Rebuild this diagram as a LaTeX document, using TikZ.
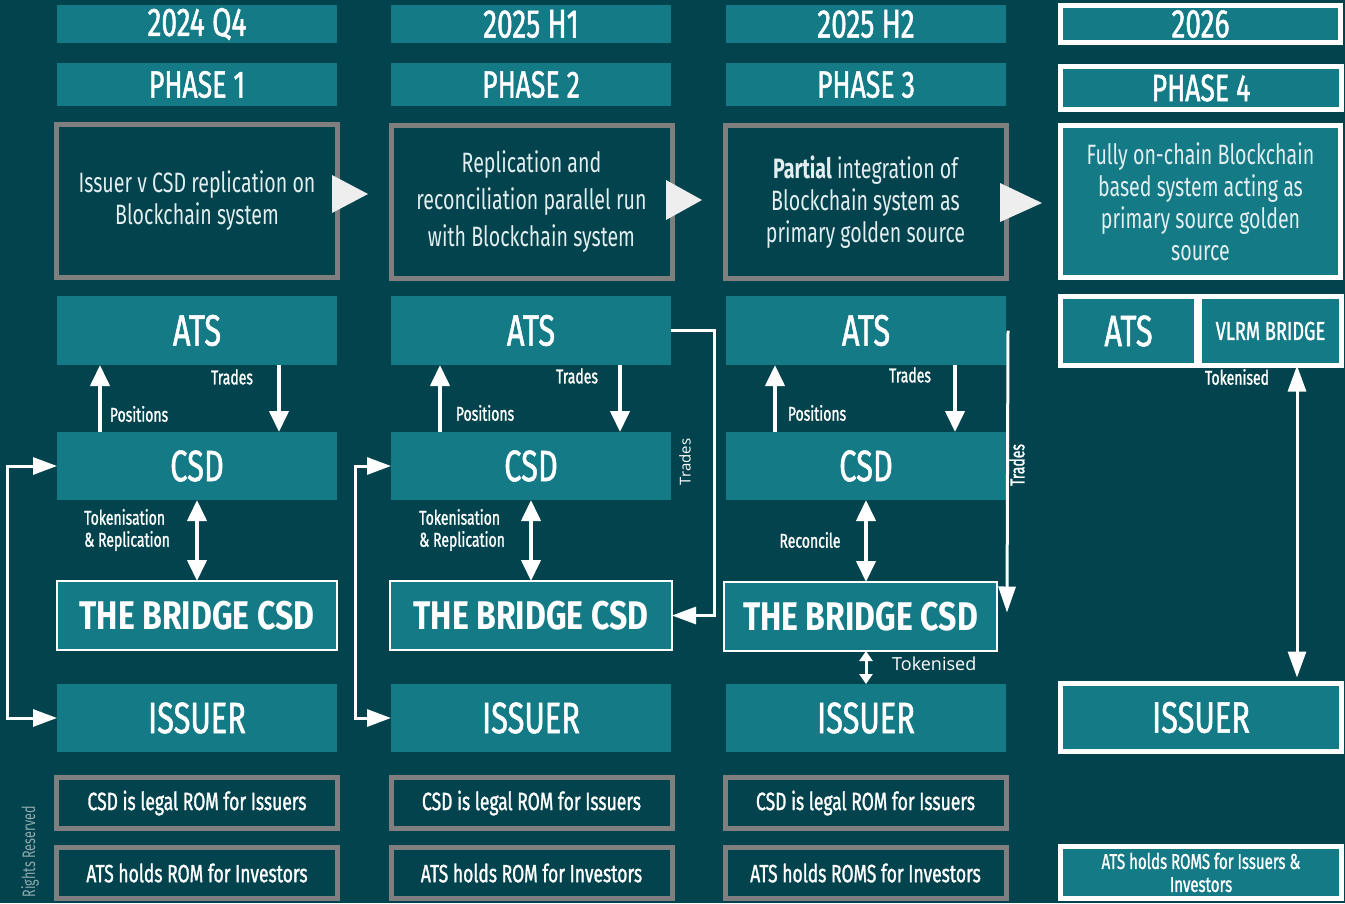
\documentclass[tikz,border=0pt]{standalone}
\usepackage{fontspec}
\usetikzlibrary{arrows.meta}
\newfontfamily\osw[FakeStretch=0.70]{Fira Sans}
\newfontfamily\oswm[FakeStretch=0.70,FakeBold=1.2]{Fira Sans}
\newfontfamily\oswb[FakeStretch=0.80]{Fira Sans}
\newfontfamily\opsans{Open Sans}
\definecolor{bgc}{HTML}{02434D}
\definecolor{tealc}{HTML}{137A86}
\definecolor{greyc}{HTML}{7F7F7F}
\definecolor{softw}{HTML}{E2EEEF}
\definecolor{rightsc}{HTML}{8FA9AD}
\definecolor{tric}{HTML}{EEEEEE}
\tikzset{
  tbox/.style={rectangle, fill=tealc, inner sep=0pt, outer sep=0pt, text=white, align=center},
  hdr/.style={tbox, minimum width=280pt, font=\oswm\fontsize{40}{42}\selectfont},
  phs/.style={tbox, minimum width=280pt, font=\oswm\fontsize{38}{40}\selectfont},
  big/.style={tbox, minimum width=280pt, minimum height=68pt, font=\oswm\fontsize{44}{46}\selectfont},
  bridge/.style={tbox, draw=white, line width=2pt, minimum height=69pt, font=\oswb\bfseries\fontsize{40}{42}\selectfont},
  desc/.style={rectangle, draw=greyc, fill=bgc, line width=5pt, minimum width=281pt, minimum height=153pt, inner sep=0pt, text=softw, align=center, font=\osw\fontsize{28}{32}\selectfont},
  legal/.style={rectangle, draw=greyc, fill=bgc, line width=5pt, minimum width=281pt, minimum height=51pt, inner sep=0pt, text=white, align=center, font=\oswm\fontsize{25}{27}\selectfont},
  wbox/.style={tbox, draw=white, line width=5pt},
  lbl/.style={text=white, inner sep=0pt, font=\oswm\fontsize{20}{22}\selectfont},
  arr/.style={white, line width=4pt, -{Triangle[width=19pt,length=21pt]}},
  darr/.style={white, line width=4pt, {Triangle[width=19pt,length=21pt]}-{Triangle[width=19pt,length=21pt]}},
  loop/.style={white, line width=3pt, {Triangle[width=17pt,length=24pt]}-{Triangle[width=17pt,length=24pt]}},
}
\begin{document}
\begin{tikzpicture}[x=1pt,y=-1pt]
\useasboundingbox (0,0) rectangle (1345,903);
\clip (0,0) rectangle (1345,903);
\fill[bgc] (0,0) rectangle (1345,903);

% ---------- headers ----------
\node[hdr, minimum height=38pt] (y1) at (197,24) {2024 Q4};
\node[hdr, minimum height=38pt] (y2) at (531,24) {2025 H1};
\node[hdr, minimum height=38pt] (y3) at (866,24) {2025 H2};
\node[wbox, minimum width=280pt, minimum height=37pt, font=\oswm\fontsize{40}{42}\selectfont] (y4) at (1200.5,24) {2026};

\node[phs, minimum height=43pt] (p1) at (197,84.5) {PHASE 1};
\node[phs, minimum height=43pt] (p2) at (531,84.5) {PHASE 2};
\node[phs, minimum height=43pt] (p3) at (866,84.5) {PHASE 3};
\node[wbox, minimum width=281pt, minimum height=43pt, font=\oswm\fontsize{38}{40}\selectfont] (p4) at (1201,88) {PHASE 4};

% ---------- descriptions ----------
\node[desc] (d1) at (197,201) {Issuer v CSD replication on\\Blockchain system};
\node[desc, font=\osw\fontsize{28}{37}\selectfont] (d2) at (531.5,201.5) {Replication and\\reconciliation parallel run\\with Blockchain system};
\node[desc] (d3) at (865.5,202) {\textbf{Partial} integration of\\Blockchain system as\\primary golden source};
\node[wbox, minimum width=280pt, minimum height=152pt, text=softw, font=\osw\fontsize{28}{32}\selectfont] (d4) at (1200.5,201.5) {Fully on-chain Blockchain\\based system acting as\\primary source golden\\source};

\fill[tric] (332,175) -- (332,213) -- (368,194) -- cycle;
\fill[tric] (666,180) -- (666,220) -- (702,200) -- cycle;
\fill[tric] (1000,183) -- (1000,222) -- (1042,203) -- cycle;

% ---------- ATS ----------
\node[big, minimum height=69pt] (ats1) at (197,330.5) {ATS};
\node[big, minimum height=69pt] (ats2) at (531,330.5) {ATS};
\node[big, minimum height=69pt] (ats3) at (866,330.5) {ATS};
\node[wbox, minimum width=136pt, minimum height=69pt, font=\oswm\fontsize{44}{46}\selectfont] (ats4) at (1128.5,331) {ATS};
\node[wbox, minimum width=142pt, minimum height=69pt, font=\oswm\fontsize{26}{28}\selectfont] (vlrm) at (1270.5,331) {VLRM BRIDGE};

% ---------- CSD ----------
\node[big] (csd1) at (197,466) {CSD};
\node[big] (csd2) at (531,466) {CSD};
\node[big] (csd3) at (866,466) {CSD};

% ---------- Bridge ----------
\node[bridge, minimum width=280pt] (br1) at (197,615.5) {THE BRIDGE CSD};
\node[bridge, minimum width=282pt] (br2) at (531,615.5) {THE BRIDGE CSD};
\node[bridge, minimum width=273pt] (br3) at (860.5,616.5) {THE BRIDGE CSD};

% ---------- Issuer ----------
\node[big] (is1) at (197,718) {ISSUER};
\node[big] (is2) at (531,718) {ISSUER};
\node[big] (is3) at (866,718) {ISSUER};
\node[wbox, minimum width=281pt, minimum height=68pt, font=\oswm\fontsize{44}{46}\selectfont] (is4) at (1201,717.5) {ISSUER};

% ---------- legal ----------
\node[legal] (l1a) at (197,803) {CSD is legal ROM for Issuers};
\node[legal] (l2a) at (531.5,803) {CSD is legal ROM for Issuers};
\node[legal] (l3a) at (865.5,803) {CSD is legal ROM for Issuers};
\node[legal] (l1b) at (197,873) {ATS holds ROM for Investors};
\node[legal] (l2b) at (531.5,873) {ATS holds ROM for Investors};
\node[legal] (l3b) at (865.5,873) {ATS holds ROMS for Investors};
\node[wbox, minimum width=281pt, minimum height=52pt, font=\oswm\fontsize{21.5}{23}\selectfont] (l4) at (1201,872.5) {ATS holds ROMS for Issuers \&\\Investors};

% ---------- arrows column 1 ----------
\draw[arr] ([xshift=43pt]csd1.north west) -- ([xshift=43pt]ats1.south west);
\draw[arr] ([xshift=222pt]ats1.south west) -- ([xshift=222pt]csd1.north west);
\draw[darr] (csd1.south) -- (br1.north);
\draw[loop] (is1.west) -- ++(-50,0) |- (csd1.west);
\node[lbl] (pos1) at (139,414) {Positions};
\node[lbl] (tr1) at (232,377) {Trades};
\node[lbl, anchor=west, align=left] (tok1) at (84,530) {Tokenisation\\\& Replication};

% ---------- arrows column 2 ----------
\draw[arr] ([xshift=49pt]csd2.north west) -- ([xshift=49pt]ats2.south west);
\draw[arr] ([xshift=229pt]ats2.south west) -- ([xshift=229pt]csd2.north west);
\draw[darr] (csd2.south) -- (br2.north);
\draw[loop] (is2.west) -- ++(-36,0) |- (csd2.west);
\draw[white, line width=3pt, -{Triangle[width=17pt,length=24pt]}] (ats2.east) -- ++(43,0) |- (br2.east);
\node[lbl] (pos2) at (485,413) {Positions};
\node[lbl] (tr2) at (577,376) {Trades};
\node[lbl, anchor=west, align=left] (tok2) at (419,530) {Tokenisation\\\& Replication};
\node[text=white, inner sep=0pt, rotate=90, font=\opsans\fontsize{15}{17}\selectfont] (tr2b) at (685,462) {Trades};

% ---------- arrows column 3 ----------
\draw[arr] ([xshift=49pt]csd3.north west) -- ([xshift=49pt]ats3.south west);
\draw[arr] ([xshift=229pt]ats3.south west) -- ([xshift=229pt]csd3.north west);
\draw[darr] (csd3.south) -- (br3.north -| csd3.south);
\draw[white, line width=3pt, -{Triangle[width=17pt,length=26pt]}] ([xshift=2pt]ats3.east) -- ([xshift=10pt,yshift=4pt]br3.east);
\draw[white, line width=3pt, {Triangle[width=13pt,length=10pt]}-{Triangle[width=13pt,length=10pt]}] (br3.south -| is3.north) -- (is3.north);
\node[lbl] (pos3) at (817,413) {Positions};
\node[lbl] (tr3) at (910,375) {Trades};
\node[lbl] (rec3) at (810,540) {Reconcile};
\node[lbl, rotate=90] (tr3b) at (1017,465) {Trades};
\node[text=white, inner sep=0pt, anchor=west, font=\opsans\fontsize{18}{20}\selectfont] (tk3) at (892,664) {Tokenised};

% ---------- column 4 ----------
\draw[white, line width=3pt, {Triangle[width=18pt,length=26pt]}-{Triangle[width=18pt,length=26pt]}] ([xshift=26.5pt]vlrm.south) -- ([xshift=96pt,yshift=6pt]is4.north);
\node[lbl] (tk4) at (1237,377) {Tokenised};

% ---------- rights ----------
\node[text=rightsc, inner sep=0pt, rotate=90, anchor=east, font=\osw\fontsize{18}{20}\selectfont] (rights) at (30,806) {Rights Reserved};
\end{tikzpicture}
\end{document}
